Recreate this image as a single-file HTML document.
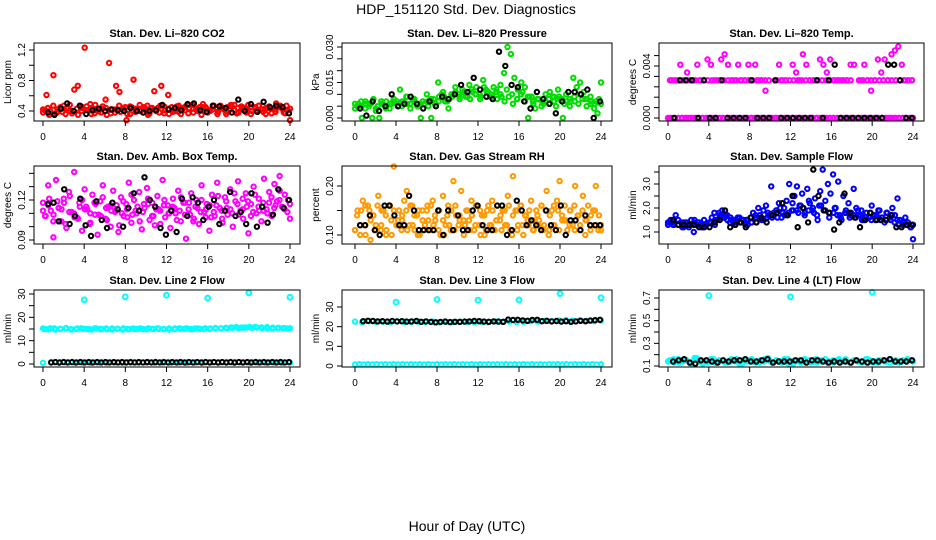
<!DOCTYPE html>
<html><head><meta charset="utf-8"><style>
body{margin:0;background:#fff}
svg{display:block;font-family:"Liberation Sans",Arial,sans-serif}
</style></head><body>
<svg id="chart" width="936" height="540" viewBox="0 0 936 540">
<rect width="936" height="540" fill="#fff"/>
<text x="466" y="14" text-anchor="middle" font-size="14">HDP_151120  Std. Dev. Diagnostics</text>
<text x="467" y="531" text-anchor="middle" font-size="14">Hour of Day (UTC)</text>
</svg>
<script>
// ---- data (values estimated from reference) ----
const hourTicks = [0,4,8,12,16,20,24];
const co2Color = [0.42,0.61,0.40,0.87,0.38,0.45,0.47,0.43,0.40,0.68,0.73,0.46,1.23,0.41,0.44,0.48,0.40,0.43,0.55,1.03,0.42,0.73,0.65,0.44,0.28,0.46,0.81,0.42,0.40,0.45,0.47,0.43,0.66,0.44,0.73,0.41,0.61,0.45,0.40,0.47,0.43,0.46,0.44,0.48,0.42,0.45,0.49,0.43,0.40,0.46,0.44,0.47,0.42,0.45,0.48,0.41,0.44,0.46,0.43,0.48,0.40,0.45,0.47,0.42,0.44,0.46,0.43,0.50,0.45,0.42,0.47,0.28];
const co2Band = [0.38,0.44,0.36,0.42,0.39,0.45,0.37,0.43,0.40,0.46,0.36,0.41,0.38,0.44,0.37,0.42,0.39,0.45,0.36,0.43,0.40,0.44,0.37,0.42,0.38,0.46,0.36,0.41,0.39,0.44,0.37,0.43,0.40,0.45,0.38,0.42,0.36,0.44,0.39,0.46,0.37,0.43,0.38,0.45,0.40,0.42,0.36,0.44,0.39,0.47,0.37,0.43];
const co2Band2 = [0.41,0.35,0.47,0.39,0.43,0.36,0.48,0.40,0.35,0.44,0.41,0.49,0.37,0.40,0.46,0.35,0.42,0.38,0.47,0.41,0.36,0.45,0.39,0.48,0.42,0.35,0.44,0.40,0.47,0.37,0.43,0.39,0.46,0.36,0.41,0.48,0.38,0.43,0.35,0.45,0.41,0.47,0.39,0.44,0.36,0.42,0.48,0.38,0.45,0.40,0.36,0.43,0.47,0.39,0.44,0.37,0.42,0.46,0.38,0.41];
const co2Black = [0.38,0.35,0.43,0.50,0.40,0.47,0.36,0.41,0.43,0.40,0.42,0.41,0.40,0.44,0.40,0.38,0.40,0.41,0.48,0.42,0.44,0.41,0.49,0.50,0.41,0.39,0.47,0.46,0.44,0.38,0.55,0.40,0.49,0.39,0.52,0.45,0.47,0.45,0.37];
const presColor = [0.004,0.006,0.000,0.006,0.005,0.000,0.003,0.000,0.006,0.007,0.004,0.007,0.006,0.012,0.007,0.009,0.004,0.007,0.005,0.000,0.006,0.007,0.000,0.006,0.015,0.010,0.007,0.004,0.009,0.011,0.010,0.012,0.009,0.014,0.011,0.013,0.010,0.016,0.011,0.009,0.013,0.008,0.014,0.019,0.030,0.027,0.017,0.012,0.015,0.013,0.000,0.009,0.004,0.008,0.007,0.010,0.006,0.009,0.005,0.008,0.000,0.007,0.005,0.017,0.013,0.015,0.011,0.008,0.006,0.004,0.002,0.015];
const presBand = [0.006,0.005,0.007,0.006,0.004,0.007,0.005,0.006,0.007,0.005,0.006,0.008,0.006,0.007,0.005,0.008,0.007,0.009,0.008,0.010,0.009,0.011,0.008,0.010,0.009,0.012,0.010,0.011,0.009,0.012,0.010,0.008,0.011,0.009,0.007,0.008,0.006,0.008,0.007,0.009,0.006,0.008,0.007,0.010,0.008,0.009,0.007,0.006];
const presBand2 = [0.005,0.007,0.004,0.006,0.008,0.005,0.007,0.004,0.006,0.008,0.005,0.007,0.009,0.006,0.008,0.005,0.007,0.010,0.008,0.006,0.009,0.011,0.007,0.010,0.013,0.008,0.011,0.009,0.012,0.010,0.008,0.013,0.011,0.009,0.012,0.010,0.007,0.009,0.006,0.008,0.010,0.007,0.009,0.006,0.008,0.005,0.007,0.011,0.009,0.012,0.008,0.010,0.007,0.009,0.006,0.008,0.005,0.007,0.006,0.008];
const presBlack = [0.004,0.001,0.007,0.003,0.005,0.010,0.005,0.006,0.009,0.006,0.004,0.007,0.005,0.009,0.008,0.010,0.014,0.011,0.017,0.012,0.009,0.008,0.028,0.022,0.014,0.013,0.007,0.004,0.011,0.008,0.006,0.002,0.007,0.011,0.011,0.010,0.012,0.000,0.007];
const tempUpper = [0.0029,0.0029,0.0029,0.0041,0.0029,0.0035,0.0029,0.0029,0.0041,0.0029,0.0029,0.0045,0.0041,0.0029,0.0029,0.0045,0.0049,0.0041,0.0029,0.0029,0.0041,0.0029,0.0029,0.0041,0.0029,0.0041,0.0029,0.0029,0.0021,0.0029,null,0.0029,0.0041,0.0029,0.0029,null,0.0041,0.0035,0.0029,0.0049,0.0041,0.0029,0.0029,0.0029,0.0045,0.0041,0.0035,0.0045,0.0029,0.0029,0.0029,0.0029,0.0029,0.0041,0.0041,null,0.0029,0.0041,0.0029,0.0021,0.0029,0.0045,0.0035,0.0045,0.0029,0.0049,0.0052,0.0055,0.0041,0.0029,0.0029,0.0029];
const tempUpper2 = [0.0029,0.0029,0.0029,0.0029,0.0029,0.0029,0.0029,0.0029,0.0029,0.0029,0.0029,0.0029,0.0029,0.0029,0.0029,0.0029,0.0029,0.0029,0.0029,0.0029,0.0029,0.0029,0.0029,0.0029,null,null,0.0029,0.0029,0.0029,0.0029,0.0029,0.0029,0.0029,0.0029,0.0029,0.0029,0.0029,0.0029,0.0029,0.0029,0.0029,0.0029,0.0029,0.0029,0.0029,null,0.0029,0.0029,0.0029,0.0029,0.0029,0.0029,0.0029,0.0029,0.0029,0.0029,0.0029,0.0029,0.0029,0.0029];
const tempZero = [0,0,0,0,0,0,0,0,0,0,0,0,0,0,0,0,0,0,0,0,0,0,0,0,0,0,0,0,0,0,0,0,0,0,0,0,0,0,0,0,0,0,0,0,0,0,0,0,0,0,0,0,0,0,0,0,0,0,0,0,0,0,0,0,0,0,0,0,0,0,0,0];
const tempZero2 = [0,0,0,0,0,0,0,0,0,0,0,0,0,0,0,0,0,0,0,0,0,0,0,0,0,0,0,0,0,0,0,0,0,0,0,0,0,0,0,0,0,0,0,0,0,0,0,0,0,0,0,0,0,0,0,0,0,0,0,0];
const tempBlack = [0,0.0029,0.0029,0.0029,0,0.0029,0,0,0.0029,0,0,0,0,0.0029,0,0,0,0.0029,0,0,0,0,0,0,0.0029,0,0.0029,0.0041,0,0,0,0,0,0,0,0,0.0041,0.0041,0.0029,0,0];
const ambColor = [0.118,0.108,0.131,0.112,0.092,0.135,0.114,0.104,0.121,0.099,0.126,0.111,0.141,0.107,0.118,0.097,0.128,0.113,0.102,0.124,0.109,0.094,0.119,0.131,0.106,0.115,0.100,0.127,0.112,0.096,0.122,0.108,0.117,0.133,0.103,0.120,0.110,0.126,0.098,0.114,0.129,0.105,0.118,0.101,0.123,0.112,0.135,0.107,0.116,0.099,0.121,0.110,0.127,0.104,0.118,0.091,0.113,0.125,0.106,0.120,0.102,0.131,0.111,0.117,0.097,0.124,0.108,0.133,0.114,0.103,0.122,0.109,0.128,0.100,0.119,0.134,0.112,0.106,0.125,0.095,0.117,0.130,0.110,0.121,0.104,0.136,0.113,0.126,0.108,0.132,0.119,0.138,0.115,0.124,0.111,0.106];
const ambBand = [0.112,0.116,0.109,0.114,0.118,0.111,0.107,0.115,0.113,0.110,0.117,0.108,0.114,0.112,0.116,0.110,0.113,0.109,0.115,0.111,0.117,0.108,0.113,0.116,0.110,0.114,0.112,0.118,0.109,0.115,0.111,0.113,0.107,0.116,0.112,0.114,0.110,0.117,0.113,0.119,0.111,0.115,0.112,0.118,0.114,0.120,0.113,0.117];
const ambBand2 = [0.108,0.121,0.104,0.119,0.113,0.102,0.123,0.110,0.106,0.120,0.115,0.103,0.118,0.109,0.122,0.105,0.116,0.111,0.101,0.119,0.107,0.124,0.112,0.104,0.117,0.121,0.108,0.113,0.102,0.120,0.110,0.115,0.105,0.122,0.109,0.118,0.104,0.114,0.120,0.107,0.116,0.111,0.123,0.106,0.119,0.113,0.125,0.109,0.121,0.115,0.108,0.124,0.112,0.118,0.110,0.122,0.116,0.127,0.114,0.120];
const ambBlack = [0.117,0.118,0.104,0.128,0.102,0.108,0.121,0.101,0.093,0.119,0.105,0.099,0.118,0.113,0.100,0.114,0.125,0.112,0.137,0.120,0.115,0.099,0.094,0.112,0.096,0.121,0.108,0.122,0.118,0.105,0.115,0.120,0.102,0.112,0.126,0.108,0.111,0.102,0.125,0.100,0.115,0.103,0.109,0.128,0.114,0.120];
const rhColor = [0.11,0.15,0.10,0.17,0.12,0.16,0.09,0.14,0.12,0.18,0.11,0.15,0.10,0.16,0.13,0.24,0.12,0.15,0.11,0.17,0.19,0.12,0.16,0.11,0.14,0.10,0.15,0.12,0.16,0.11,0.17,0.13,0.15,0.10,0.18,0.12,0.16,0.11,0.21,0.14,0.12,0.19,0.10,0.15,0.13,0.17,0.11,0.16,0.12,0.14,0.10,0.15,0.12,0.17,0.11,0.16,0.13,0.15,0.12,0.18,0.11,0.22,0.15,0.12,0.16,0.10,0.14,0.12,0.17,0.11,0.15,0.13,0.16,0.12,0.19,0.11,0.15,0.12,0.17,0.21,0.13,0.16,0.11,0.15,0.12,0.20,0.14,0.11,0.18,0.13,0.16,0.12,0.15,0.20,0.11,0.12];
const rhBand = [0.11,0.12,0.10,0.13,0.11,0.12,0.11,0.10,0.12,0.13,0.11,0.12,0.10,0.11,0.13,0.12,0.11,0.10,0.12,0.11,0.13,0.12,0.11,0.12,0.10,0.11,0.12,0.13,0.11,0.12,0.10,0.11,0.12,0.13,0.11,0.12,0.11,0.10,0.12,0.11,0.13,0.12,0.11,0.12,0.10,0.11,0.12,0.11];
const rhBand2 = [0.14,0.15,0.16,0.15,0.14,0.16,0.15,0.14,0.16,0.15,0.13,0.14,0.15,0.16,0.14,0.15,0.13,0.15,0.16,0.14,0.15,0.13,0.14,0.15,0.16,0.14,0.13,0.15,0.14,0.16,0.15,0.14,0.16,0.15,0.13,0.14,0.15,0.16,0.14,0.15,0.16,0.14,0.15,0.13,0.14,0.16,0.15,0.14,0.16,0.15,0.14,0.13,0.15,0.16,0.14,0.15,0.13,0.14,0.15,0.14];
const rhBlack = [0.12,0.12,0.14,0.11,0.10,0.16,0.16,0.14,0.12,0.12,0.18,0.15,0.11,0.11,0.11,0.11,0.15,0.10,0.15,0.11,0.14,0.11,0.11,0.15,0.16,0.12,0.11,0.11,0.16,0.16,0.10,0.11,0.17,0.15,0.12,0.13,0.12,0.11,0.15,0.12,0.11,0.16,0.10,0.13,0.13,0.11,0.14,0.12,0.12,0.12];
const flowColor = [1.4,1.5,1.3,1.7,1.3,1.4,1.2,1.4,1.3,1.5,1.0,1.3,1.4,1.2,1.5,1.3,1.4,1.6,1.8,1.5,1.7,1.9,1.6,1.5,1.4,1.5,1.3,1.6,1.4,1.5,1.3,1.5,1.6,1.8,1.7,2.0,1.6,1.9,2.1,1.7,2.9,1.8,1.9,2.2,1.6,2.0,2.3,3.0,1.9,2.5,2.9,2.1,2.6,1.7,2.8,2.2,1.9,2.4,1.5,2.7,3.6,2.3,3.0,2.6,3.4,2.0,3.1,1.6,2.5,1.9,2.2,1.8,2.8,2.0,1.7,1.9,1.5,1.8,1.6,2.1,1.7,1.5,1.9,1.6,1.4,1.8,1.6,2.0,1.7,2.4,1.5,1.3,1.6,1.4,1.2,0.7];
const flowBand = [1.3,1.4,1.3,1.4,1.2,1.4,1.3,1.3,1.4,1.3,1.6,1.7,1.6,1.5,1.4,1.5,1.4,1.4,1.5,1.6,1.7,1.6,1.8,1.7,1.9,1.8,2.0,1.9,1.8,2.1,1.9,1.8,2.0,1.7,1.8,1.7,1.6,1.7,1.6,1.5,1.7,1.6,1.8,1.7,1.5,1.4,1.4,1.3];
const flowBand2 = [1.4,1.3,1.5,1.2,1.4,1.3,1.5,1.4,1.2,1.3,1.4,1.5,1.8,1.6,1.7,1.5,1.4,1.6,1.5,1.3,1.4,1.6,1.7,1.5,1.8,1.6,1.9,2.0,1.7,1.8,2.2,1.9,2.1,1.8,2.3,2.0,1.7,2.1,1.9,1.6,1.8,1.7,1.5,1.8,1.6,1.7,1.9,1.5,1.6,1.8,1.7,1.9,1.6,1.8,1.5,1.4,1.3,1.4,1.3,1.2];
const flowBlack = [1.5,1.3,1.3,1.3,1.3,1.2,1.2,1.2,1.4,1.5,1.9,1.2,1.3,1.4,1.2,1.6,1.4,1.6,1.4,1.7,1.8,2.2,1.7,2.5,1.2,2.0,1.4,3.6,2.5,1.9,1.8,1.1,1.4,2.6,1.8,1.6,1.2,1.5,1.8,1.5,1.5,1.5,1.7,1.2,1.2,1.3,1.3];
const l2Main = [15.2,14.9,15.3,15.0,15.4,14.8,15.2,15.1,14.9,15.3,15.0,15.2,14.8,15.1,15.3,14.9,15.0,15.2,14.9,15.1,15.3,15.0,14.8,15.2,15.1,15.3,14.9,15.2,15.0,15.1,15.4,15.2,15.3,15.5,15.4,15.6,15.8,15.9,15.7,15.8,15.6,15.5,15.4,15.3];
const l2Main2 = [15.0,15.3,14.8,15.1,15.2,14.9,15.0,15.3,15.1,14.8,15.2,15.0,14.9,15.2,15.1,14.8,15.0,15.2,15.1,14.9,15.3,15.0,15.1,14.9,15.2,15.0,15.3,15.1,15.0,15.2,15.1,15.3,15.2,15.4,15.3,15.5,15.7,15.8,15.6,15.7,15.5,15.6,15.4,15.3,15.2,15.4,15.3,15.2];
const l2Low = [0.5,0.6,0.5,0.6,0.5,0.6,0.5,0.6,0.5,0.6,0.5,0.6,0.5,0.6,0.5,0.6,0.5,0.6,0.5,0.6,0.5,0.6,0.5,0.6,0.5,0.6,0.5,0.6,0.5,0.6,0.5,0.6];
const l2Black = [0.7,0.8,0.7,0.8,0.7,0.8,0.7,0.8,0.7,0.8,0.7,0.8,0.7,0.8,0.7,0.8,0.7,0.8,0.7,0.8,0.7,0.8,0.7,0.8,0.7,0.8,0.7,0.8,0.7,0.8,0.7,0.8,0.7,0.8,0.7,0.8,0.7,0.8,0.7,0.8,0.7,0.8,0.7,0.8,0.7,0.8,0.7,0.8,0.7,0.8,0.7,0.8,0.7,0.8,0.7,0.8,0.7,0.8];
const l2OutHours = [4,8,12,16,20,24];
const l2OutVals = [27.5,28.8,29.5,28.3,30.5,28.6];
const l3Main = [22.6,22.3,22.8,22.4,22.6,22.2,22.7,22.5,22.3,22.6,22.4,22.7,22.2,22.5,22.3,22.6,22.4,22.2,22.5,22.3,22.7,22.4,22.6,22.3,22.5,22.8,22.6,23.0,22.8,23.2,23.4,23.1,23.3,23.0,22.8,23.1];
const l3Low = [0.8,0.9,0.8,0.9,0.8,0.9,0.8,0.9,0.8,0.9,0.8,0.9,0.8,0.9,0.8,0.9,0.8,0.9,0.8,0.9,0.8,0.9,0.8,0.9,0.8,0.9,0.8,0.9,0.8,0.9,0.8,0.9,0.8,0.9,0.8,0.9,0.8,0.9,0.8,0.9,0.8,0.9,0.8,0.9,0.8,0.9,0.8,0.9,0.8,0.9,0.8,0.9,0.8,0.9,0.8,0.9,0.8,0.9];
const l3Black = [22.8,23.0,22.9,22.7,22.8,22.6,22.9,22.7,22.8,22.6,22.7,22.9,22.5,22.7,22.4,22.2,22.4,22.6,22.3,22.5,22.4,22.6,22.7,22.9,22.8,22.6,22.5,22.7,22.6,22.5,23.6,23.4,23.5,23.2,23.0,23.4,23.5,22.8,23.0,22.7,22.9,22.6,22.8,22.5,22.7,23.0,22.8,23.1,23.3,23.5];
const l3OutHours = [4,8,12,16,20,24];
const l3OutVals = [32.5,33.8,33.5,33.6,36.8,34.7];
const l4Main = [0.14,0.16,0.13,0.15,0.12,0.17,0.14,0.13,0.16,0.15,0.13,0.14,0.16,0.12,0.15,0.14,0.13,0.16,0.14,0.15,0.13,0.16,0.12,0.14,0.15,0.13,0.16,0.14,0.13,0.15,0.16,0.14,0.13,0.15,0.14,0.16,0.13,0.15,0.14,0.13,0.15,0.14,0.16,0.14];
const l4Main2 = [0.15,0.13,0.16,0.14,0.15,0.13,0.17,0.14,0.12,0.15,0.16,0.13,0.14,0.15,0.13,0.16,0.14,0.12,0.15,0.14,0.16,0.13,0.15,0.14,0.17,0.13,0.15,0.14,0.16,0.12,0.14,0.15,0.13,0.16,0.15,0.14,0.13,0.15,0.16,0.14,0.13,0.15,0.14,0.16,0.13,0.15,0.14,0.13,0.16,0.15,0.14,0.13,0.15,0.14,0.16,0.14,0.13,0.15,0.14,0.15];
const l4Black = [0.14,0.15,0.16,0.13,0.12,0.15,0.15,0.14,0.13,0.15,0.14,0.15,0.15,0.16,0.14,0.14,0.15,0.16,0.13,0.14,0.14,0.14,0.15,0.15,0.13,0.15,0.15,0.14,0.13,0.14,0.13,0.14,0.13,0.15,0.14,0.13,0.14,0.14,0.15,0.16,0.14,0.14,0.14,0.15];
const l4OutHours = [4,12,20];
const l4OutVals = [0.72,0.71,0.75];

// ---- rendering ----
const NS = "http://www.w3.org/2000/svg";
const svg = document.getElementById('chart');
function mk(tag, attrs, parent){const e=document.createElementNS(NS,tag);for(const k in attrs)e.setAttribute(k,attrs[k]);(parent||svg).appendChild(e);return e;}

const panels = [
 {id:'co2',title:'Stan. Dev. Li-820 CO2',ylab:'Licor ppm',box:[34,43,300,121],x0:43,x24:290,v1:0.4,p1:111,v2:1.2,p2:50,ticks:[0.4,0.6,0.8,1.0,1.2],labels:['0.4',null,'0.8',null,'1.2'],
  series:[[co2Band,'#ff0000',0,24],[co2Band2,'#ff0000',0.2,23.8],[co2Color,'#ff0000',0,24],[co2Black,'#000',0.5,23.9]]},
 {id:'pressure',title:'Stan. Dev. Li-820 Pressure',ylab:'kPa',box:[342,43,612,121],x0:355,x24:601,v1:0,p1:118,v2:0.03,p2:47,ticks:[0,0.005,0.01,0.015,0.02,0.025,0.03],labels:['0.000',null,null,'0.015',null,null,'0.030'],
  series:[[presBand,'#00dd00',0,24],[presBand2,'#00dd00',0.2,23.8],[presColor,'#00dd00',0,24],[presBlack,'#000',0.5,23.9]]},
 {id:'temp',title:'Stan. Dev. Li-820 Temp.',ylab:'degrees C',box:[659,43,924,121],x0:668,x24:913,v1:0,p1:118,v2:0.004,p2:66,ticks:[0,0.0008,0.0016,0.0024,0.0032,0.004,0.0048],labels:['0.000',null,null,null,null,'0.004',null],
  series:[[tempZero,'#ff00ff',0,24],[tempZero2,'#ff00ff',0.2,23.8],[tempUpper2,'#ff00ff',0.3,23.9],[tempUpper,'#ff00ff',0.2,23.9],[tempBlack,'#000',0.6,23.9]]},
 {id:'ambtemp',title:'Stan. Dev. Amb. Box Temp.',ylab:'degrees C',box:[34,166,300,244],x0:43,x24:290,v1:0.09,p1:240,v2:0.12,p2:200,ticks:[0.09,0.10,0.11,0.12,0.13,0.14],labels:['0.09',null,null,'0.12',null,null],
  series:[[ambBand,'#ff00ff',0,24],[ambBand2,'#ff00ff',0.2,23.8],[ambColor,'#ff00ff',0,24],[ambBlack,'#000',0.5,23.9]]},
 {id:'rh',title:'Stan. Dev. Gas Stream RH',ylab:'percent',box:[342,166,612,244],x0:355,x24:601,v1:0.10,p1:235,v2:0.20,p2:186,ticks:[0.10,0.15,0.20],labels:['0.10',null,'0.20'],
  series:[[rhBand,'#ff9900',0,24],[rhBand2,'#ff9900',0.2,23.8],[rhColor,'#ff9900',0,24],[rhBlack,'#000',0.5,23.9]]},
 {id:'sampleflow',title:'Stan. Dev. Sample Flow',ylab:'ml/min',box:[659,166,924,244],x0:668,x24:913,v1:1.0,p1:232,v2:3.0,p2:184,ticks:[1.0,1.5,2.0,2.5,3.0,3.5],labels:['1.0',null,'2.0',null,'3.0',null],
  series:[[flowBand,'#0000ff',0,24],[flowBand2,'#0000ff',0.2,23.8],[flowColor,'#0000ff',0,24],[flowBlack,'#000',0.5,23.9]]},
 {id:'line2',title:'Stan. Dev. Line 2 Flow',ylab:'ml/min',box:[34,290,300,367],x0:43,x24:290,v1:0,p1:364,v2:30,p2:294,ticks:[0,5,10,15,20,25,30],labels:['0',null,'10',null,'20',null,'30'],
  series:[[l2Main,'#00ffff',0,24],[l2Main2,'#00ffff',0.2,23.8],[l2Low,'#00ffff',0,24],[l2Black,'#000',0.8,23.9]],out:[l2OutHours,l2OutVals]},
 {id:'line3',title:'Stan. Dev. Line 3 Flow',ylab:'ml/min',box:[342,290,612,367],x0:355,x24:601,v1:0,p1:366,v2:30,p2:307,ticks:[0,10,20,30],labels:['0','10','20','30'],
  series:[[l3Main,'#00ffff',0,24],[l3Low,'#00ffff',0,24],[l3Black,'#000',0.8,23.9]],out:[l3OutHours,l3OutVals]},
 {id:'line4',title:'Stan. Dev. Line 4 (LT) Flow',ylab:'ml/min',box:[659,290,924,367],x0:668,x24:913,v1:0.1,p1:366,v2:0.7,p2:298,ticks:[0.1,0.2,0.3,0.4,0.5,0.6,0.7],labels:['0.1',null,'0.3',null,'0.5',null,'0.7'],
  series:[[l4Main,'#00ffff',0,24],[l4Main2,'#00ffff',0.2,23.8],[l4Black,'#000',0.5,23.9]],out:[l4OutHours,l4OutVals]}
];

panels.forEach(p=>{
  const [l,t,r,b]=p.box;
  const g=mk('g',{});
  
  
  const xs=h=>p.x0+(p.x24-p.x0)*h/24;
  const ys=v=>p.p1+(v-p.v1)*(p.p2-p.p1)/(p.v2-p.v1);
  const tt=mk('text',{x:(l+r)/2,y:t-6,'text-anchor':'middle','font-size':11,'font-weight':'bold'},g);
  tt.textContent=p.title.replace('-','\u2013');
  
  
  const pts=mk('g',{fill:'none','stroke-width':2},g);
  
  
  const cyanOut = p.out;
  p.series.forEach(s=>{
    const [vals,col,h0,h1]=s;
    vals.forEach((v,i)=>{
      if(v===null)return;
      const h=h0+(h1-h0)*i/(vals.length-1);
      const c=mk('circle',{cx:xs(h).toFixed(1),cy:ys(v).toFixed(1),r:2.2,stroke:col},pts);
      
      
    });
  });
  if(cyanOut){
    cyanOut[0].forEach((h,i)=>{
      const c=mk('circle',{cx:xs(h).toFixed(1),cy:ys(cyanOut[1][i]).toFixed(1),r:2.4,stroke:'#00ffff'},pts);
      
      
    });
  }
  const bx=mk('rect',{x:l,y:t,width:r-l,height:b-t,fill:'none',stroke:'#000','stroke-width':1},g);
  
  
  hourTicks.forEach(h=>{
    const x=xs(h);
    mk('line',{x1:x,y1:b,x2:x,y2:b+5,stroke:'#000'},g);
    const tx=mk('text',{x:x,y:b+19,'text-anchor':'middle','font-size':10},g);
    tx.textContent=h;
    
    
  });
  p.ticks.forEach((v,i)=>{
    const y=ys(v);
    mk('line',{x1:l-5,y1:y,x2:l,y2:y,stroke:'#000'},g);
    if(p.labels[i]){
      const tx=mk('text',{x:l-9,y:y,'text-anchor':'middle','font-size':10,transform:`rotate(-90 ${l-9} ${y})`},g);
      tx.textContent=p.labels[i];
      
      
    }
  });
  const yc=(t+b)/2;
  const yl=mk('text',{x:l-23,y:yc,'text-anchor':'middle','font-size':10,transform:`rotate(-90 ${l-23} ${yc})`},g);
  yl.textContent=p.ylab;
  
  
});
</script>
</body></html>
